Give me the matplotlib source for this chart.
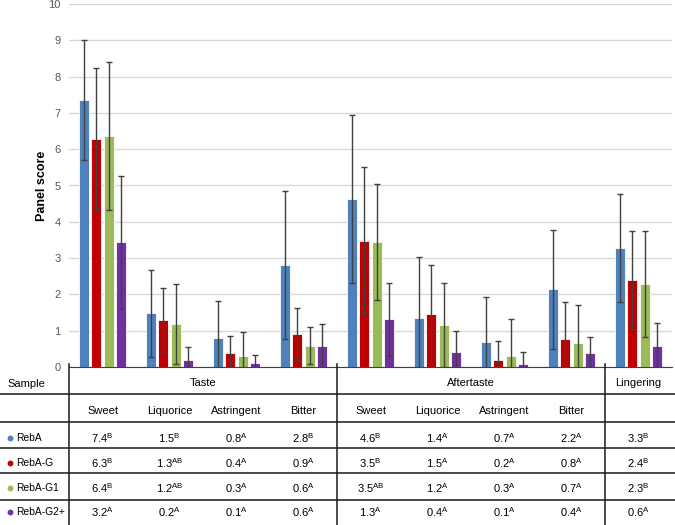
import numpy as np
import matplotlib.pyplot as plt
from matplotlib.lines import Line2D

plt.rcParams['font.family'] = ['Liberation Sans', 'DejaVu Sans']
plt.rcParams['mathtext.fontset'] = 'custom'
plt.rcParams['mathtext.rm'] = 'Liberation Sans'

# данные
attributes = ['Sweet', 'Liquorice', 'Astringent', 'Bitter',
              'Sweet', 'Liquorice', 'Astringent', 'Bitter', '']
groups = ['Taste', 'Aftertaste', 'Lingering']
group_span = [(0, 3), (4, 7), (8, 8)]
samples = ['RebA', 'RebA-G', 'RebA-G1', 'RebA-G2+']
colors = ['#4f81bd', '#c00000', '#9bbb59', '#7030a0']

rebA = [7.36, 1.48, 0.81, 2.81, 4.62, 1.34, 0.70, 2.14, 3.28]
rebA_G = [6.28, 1.29, 0.38, 0.90, 3.48, 1.45, 0.19, 0.77, 2.40]
rebA_G1 = [6.36, 1.18, 0.30, 0.59, 3.45, 1.16, 0.30, 0.67, 2.29]
rebA_G2 = [3.43, 0.19, 0.10, 0.59, 1.31, 0.41, 0.08, 0.38, 0.59]

sd_rebA = [1.65, 1.20, 1.00, 2.05, 2.31, 1.69, 1.22, 1.64, 1.48]
sd_rebA_G = [1.95, 0.90, 0.48, 0.72, 2.03, 1.35, 0.52, 1.03, 1.36]
sd_rebA_G1 = [2.03, 1.10, 0.66, 0.50, 1.60, 1.16, 1.01, 1.03, 1.45]
sd_rebA_G2 = [1.83, 0.37, 0.22, 0.60, 1.00, 0.59, 0.34, 0.45, 0.61]

# значения в таблице
tab_rebA = ['7.4', '1.5', '0.8', '2.8', '4.6', '1.4', '0.7', '2.2', '3.3']
let_rebA = ['B', 'B', 'A', 'B', 'B', 'A', 'A', 'A', 'B']
tab_rebA_G = ['6.3', '1.3', '0.4', '0.9', '3.5', '1.5', '0.2', '0.8', '2.4']
let_rebA_G = ['B', 'AB', 'A', 'A', 'B', 'A', 'A', 'A', 'B']
tab_rebA_G1 = ['6.4', '1.2', '0.3', '0.6', '3.5', '1.2', '0.3', '0.7', '2.3']
let_rebA_G1 = ['B', 'AB', 'A', 'A', 'AB', 'A', 'A', 'A', 'B']
tab_rebA_G2 = ['3.2', '0.2', '0.1', '0.6', '1.3', '0.4', '0.1', '0.4', '0.6']
let_rebA_G2 = ['A', 'A', 'A', 'A', 'A', 'A', 'A', 'A', 'A']

means = [rebA, rebA_G, rebA_G1, rebA_G2]
sds = [sd_rebA, sd_rebA_G, sd_rebA_G1, sd_rebA_G2]
tab_vals = [tab_rebA, tab_rebA_G, tab_rebA_G1, tab_rebA_G2]
tab_lets = [let_rebA, let_rebA_G, let_rebA_G1, let_rebA_G2]

W, H = 675, 525
fig = plt.figure(figsize=(6.75, 5.25), dpi=100)

# график
ax = fig.add_axes([69 / W, (H - 367) / H, 603 / W, 363 / H])
x = np.arange(len(attributes))
width = 0.15
step = 0.18
for i in range(len(samples)):
    pos = x + (i - 1.5) * step
    ax.bar(pos, means[i], width, color=colors[i], edgecolor='white', linewidth=0.6, zorder=2)
    ax.errorbar(pos, means[i], yerr=sds[i], fmt='none', ecolor='#404040',
                elinewidth=1, capsize=2.3, capthick=1, zorder=3)

ax.set_xlim(-0.5, 8.5)
ax.set_ylim(0, 10)
ax.set_yticks(range(0, 11))
ax.tick_params(axis='y', length=0, labelsize=8, labelcolor='#595959', pad=6)
ax.set_xticks([])
ax.grid(axis='y', color='#d9d9d9', linewidth=1, zorder=0)
for s in ['top', 'right', 'left']:
    ax.spines[s].set_visible(False)
ax.spines['bottom'].set_color('#404040')
ax.set_ylabel('Panel score', fontsize=9, fontweight='bold', labelpad=0)

# таблица
tx = fig.add_axes([0, 0, 1, (H - 367) / H])
tx.set_xlim(-0.5 - 69 / 67, 8.5 + 3 / 67)
tx.set_ylim(158, 0)
tx.axis('off')

fs = 8
for yl in [27, 55, 81, 106, 133]:
    tx.axhline(yl, color='#1a1a1a', linewidth=1.1)
for xl in [-0.5, 3.5, 7.5]:
    tx.add_line(Line2D([xl, xl], [-3, 158], color='#1a1a1a', linewidth=1.1, clip_on=False))

tx.text(-0.5 - 62 / 67, 17, 'Sample', fontsize=fs, ha='left', va='center')
for g, (a, b) in zip(groups, group_span):
    tx.text((a + b) / 2, 16, g, fontsize=fs, ha='center', va='center')
for j, name in enumerate(attributes):
    if name:
        tx.text(j, 44, name, fontsize=fs, ha='center', va='center')

row_y = [71, 96, 121, 145]
for i, name in enumerate(samples):
    tx.plot(-0.5 - 59 / 67, row_y[i], 'o', color=colors[i], markersize=3.2, clip_on=False)
    tx.text(-0.5 - 53 / 67, row_y[i], name, fontsize=7.4, ha='left', va='center')
    for j in range(len(attributes)):
        tx.text(j, row_y[i], tab_vals[i][j] + r'$^{\mathrm{' + tab_lets[i][j] + '}}$',
                fontsize=fs, ha='center', va='center')

fig.savefig('out.png', dpi=100)
